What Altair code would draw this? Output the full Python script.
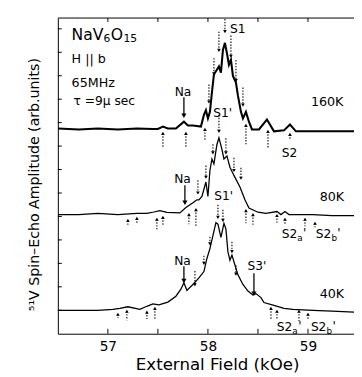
import altair as alt
import pandas as pd

# ---- spectra (field in kOe, amplitude in arb. units incl. vertical offset) ----
f160 = [56.50, 56.71, 56.90, 57.10, 57.29, 57.45, 57.50, 57.55, 57.60, 57.68,
        57.76, 57.80, 57.85, 57.93, 57.96, 57.98, 58.00, 58.02, 58.04, 58.06,
        58.11, 58.13, 58.15, 58.17, 58.19, 58.21, 58.23, 58.25, 58.28, 58.30,
        58.33, 58.35, 58.38, 58.41, 58.44, 58.51, 58.59, 58.66, 58.76, 58.82,
        58.88, 59.05, 59.24, 59.46]
a160 = [8.75, 8.71, 8.75, 8.71, 8.75, 8.73, 8.73, 8.83, 8.75, 8.75,
        9.04, 8.88, 8.88, 8.83, 9.33, 9.53, 9.18, 9.46, 10.29, 11.05,
        11.40, 11.13, 12.10, 12.40, 11.96, 11.47, 11.68, 10.99, 10.71, 10.15,
        9.46, 9.18, 9.46, 9.04, 8.71, 8.71, 9.13, 8.63, 8.67, 8.92,
        8.63, 8.63, 8.63, 8.63]

f80 = [56.50, 56.71, 56.90, 57.10, 57.29, 57.39, 57.46, 57.52, 57.59, 57.72,
       57.78, 57.85, 57.89, 57.91, 57.94, 57.98, 58.00, 58.02, 58.04, 58.06,
       58.09, 58.11, 58.14, 58.16, 58.19, 58.22, 58.26, 58.32, 58.37, 58.41,
       58.50, 58.58, 58.69, 58.73, 58.77, 58.81, 59.05, 59.24, 59.46]
a80 = [5.08, 5.08, 5.13, 5.08, 5.13, 5.13, 5.19, 5.25, 5.17, 5.15,
       5.38, 5.58, 5.71, 5.71, 5.85, 6.47, 5.85, 6.96, 7.45, 7.24,
       8.07, 8.35, 7.86, 7.45, 7.58, 7.10, 6.75, 6.26, 5.71, 5.36,
       5.18, 5.13, 5.21, 5.08, 5.21, 5.08, 5.08, 5.04, 5.04]

f40 = [56.50, 56.71, 56.90, 57.05, 57.12, 57.20, 57.32, 57.39, 57.45, 57.51,
       57.60, 57.68, 57.73, 57.76, 57.79, 57.85, 57.91, 57.96, 57.99, 58.02,
       58.05, 58.08, 58.10, 58.13, 58.16, 58.18, 58.20, 58.22, 58.24, 58.27,
       58.30, 58.35, 58.40, 58.45, 58.48, 58.53, 58.56, 58.66, 58.76, 58.85,
       59.05, 59.24, 59.46]
a40 = [1.00, 1.00, 1.00, 1.04, 1.08, 1.15, 1.04, 1.17, 1.27, 1.23,
       1.35, 1.60, 1.90, 2.17, 1.85, 2.10, 2.38, 2.65, 3.21, 3.63,
       4.18, 4.74, 4.67, 4.11, 4.71, 4.46, 3.49, 3.14, 3.35, 2.93,
       2.51, 2.10, 1.82, 1.65, 1.71, 1.54, 1.33, 1.21, 1.08, 1.04,
       1.00, 0.96, 0.92]

# ---- dotted markers: arrows pointing down onto peaks ----
dn_f = [58.01, 58.06, 58.11, 58.17, 58.23, 58.28, 58.35,
        57.90, 57.98, 58.05, 58.11, 58.18, 58.26, 58.33,
        57.87, 57.96, 58.02, 58.10, 58.15, 58.24, 58.28]
dn_top = [10.63, 11.75, 12.88, 13.42, 12.71, 11.67, 10.50,
          6.54, 7.17, 8.08, 9.33, 8.33, 7.50, 7.08,
          2.67, 3.33, 4.13, 5.50, 5.29, 3.92, 2.92]
dn_tip = [9.88, 11.08, 12.08, 12.88, 11.83, 10.79, 9.75,
          6.00, 6.67, 7.71, 8.63, 7.71, 6.96, 6.63,
          2.08, 3.00, 3.83, 4.96, 4.83, 3.50, 2.54]

# ---- dotted markers: arrows pointing up from below ----
up_f = [57.55, 57.78, 57.97, 58.38, 58.60, 58.82,
        57.20, 57.29, 57.49, 57.55, 57.81, 57.88, 58.38, 58.45, 58.69, 58.77, 58.97, 59.07,
        57.10, 57.19, 57.39, 57.47, 58.63, 58.69, 58.91, 59.00]
up_tip = [8.54, 8.54, 8.71, 8.88, 8.63, 8.50,
          4.83, 4.92, 4.88, 4.96, 5.08, 5.29, 5.25, 5.08, 5.04, 4.88, 4.88, 4.71,
          0.83, 0.96, 0.92, 1.08, 1.08, 0.96, 0.96, 0.83]
up_bot = [7.92, 7.92, 8.21, 8.08, 7.92, 8.25,
          4.63, 4.67, 4.46, 4.58, 4.67, 4.58, 4.71, 4.63, 4.67, 4.63, 4.58, 4.54,
          0.67, 0.58, 0.63, 0.63, 0.63, 0.63, 0.54, 0.58]

# ---- solid arrows (Na, Na, Na, S3') ----
sa_f = [57.76, 57.77, 57.76, 58.46]
sa_top = [10.08, 6.33, 2.88, 2.58]
sa_tip = [9.29, 5.58, 2.25, 1.71]

# ---- text labels ----
lab_text = ["NaV", "6", "O", "15", "H || b", "65MHz", "τ =9μ sec",
            "S1", "Na", "S1'", "160K", "S2",
            "Na", "S1'", "80K", "S2", "a", "'", "S2", "b", "'",
            "Na", "S3'", "40K", "S2", "a", "'", "S2", "b", "'"]
lab_x = [56.637, 56.956, 57.028, 57.155, 56.637, 56.637, 56.657,
         58.22, 57.668, 58.054, 59.029, 58.737,
         57.663, 58.063, 59.117, 58.737, 58.893, 58.951, 59.078, 59.234, 59.293,
         57.663, 58.395, 59.117, 58.688, 58.844, 58.902, 59.029, 59.185, 59.244]
lab_y = [12.73, 12.56, 12.73, 12.56, 11.71, 10.69, 9.94,
         13.0, 10.29, 9.42, 9.88, 7.71,
         6.58, 5.88, 5.83, 4.25, 4.08, 4.30, 4.25, 4.08, 4.30,
         3.08, 2.88, 1.67, 0.29, 0.12, 0.34, 0.29, 0.12, 0.34]
lab_size = [16, 11, 16, 11, 13, 13, 12.5,
            12.5, 12.5, 12.5, 13, 12.5,
            12.5, 12.5, 13, 12.5, 9, 12.5, 12.5, 9, 12.5,
            12.5, 12.5, 13, 12.5, 9, 12.5, 12.5, 9, 12.5]

x_ticks = [57, 57.5, 58, 58.5, 59]
y_ticks = list(range(1, 14))

W, H = 303, 323
FONT = "DejaVu Sans"

xs = alt.Scale(domain=[56.5, 59.46], nice=False, zero=False)
ys = alt.Scale(domain=[0, 13.46], nice=False, zero=False)

XAXIS = alt.Axis(
    values=[57, 58, 59], ticks=False, tickSize=0, grid=False,
    labelFont=FONT, labelFontSize=14, labelColor="black", labelPadding=6,
    domainColor="black", domainWidth=1,
    title="External Field (kOe)", titleFont=FONT, titleFontSize=17,
    titleFontWeight="normal", titleColor="black",
    titleX=163, titleY=37, titleBaseline="alphabetic", titleAlign="center")
YAXIS = alt.Axis(
    labels=False, ticks=False, tickSize=0, grid=False,
    domainColor="black", domainWidth=1,
    title="⁵¹V Spin–Echo Amplitude (arb.units)", titleFont=FONT, titleFontSize=14.5,
    titleFontWeight="normal", titleColor="black", titleAngle=270,
    titleX=-20, titleY=170, titleBaseline="alphabetic", titleAlign="center")


def xq(field="f"):
    return alt.X(f"{field}:Q", scale=xs, axis=XAXIS)


def yq(field):
    return alt.Y(f"{field}:Q", scale=ys, axis=YAXIS)


spec = pd.concat([
    pd.DataFrame({"f": f160, "a": a160, "T": "160K"}),
    pd.DataFrame({"f": f80, "a": a80, "T": "80K"}),
    pd.DataFrame({"f": f40, "a": a40, "T": "40K"}),
])

lines_thin = alt.Chart(spec[spec["T"] != "160K"]).mark_line(
    color="black", strokeWidth=1.3, clip=True).encode(x=xq(), y=yq("a"), detail="T:N")
line160 = alt.Chart(spec[spec["T"] == "160K"]).mark_line(
    color="black", strokeWidth=2.1, clip=True).encode(x=xq(), y=yq("a"))

dn = pd.DataFrame({"f": dn_f, "y1": dn_top, "y2": dn_tip})
up = pd.DataFrame({"f": up_f, "y1": up_tip, "y2": up_bot})
sa = pd.DataFrame({"f": sa_f, "y1": sa_top, "y2": sa_tip})

dotted = alt.Chart(pd.concat([dn, up])).mark_rule(
    color="black", strokeWidth=1.1, strokeDash=[1.5, 1.5]).encode(
    x=xq(), y=yq("y1"), y2="y2:Q")
dn_heads = alt.Chart(dn).mark_point(
    shape="triangle-down", filled=True, size=14, color="black", opacity=1).encode(
    x=xq(), y=yq("y2"))
up_heads = alt.Chart(up).mark_point(
    shape="triangle-up", filled=True, size=14, color="black", opacity=1).encode(
    x=xq(), y=yq("y1"))
solid = alt.Chart(sa).mark_rule(color="black", strokeWidth=1.3).encode(
    x=xq(), y=yq("y1"), y2="y2:Q")
solid_heads = alt.Chart(sa).mark_point(
    shape="triangle-down", filled=True, size=28, color="black", opacity=1).encode(
    x=xq(), y=yq("y2"))

labels = alt.Chart(pd.DataFrame({"t": lab_text, "f": lab_x, "y": lab_y, "s": lab_size})).mark_text(
    align="left", baseline="middle", font=FONT, color="black").encode(
    x=xq(), y=yq("y"), text="t:N", size=alt.Size("s:Q", scale=None))

tick_b = alt.Chart(pd.DataFrame({"f": x_ticks})).mark_rule(color="black", strokeWidth=1).encode(
    x=xq(), y=alt.value(H), y2=alt.value(H - 5))
tick_t = alt.Chart(pd.DataFrame({"f": x_ticks})).mark_rule(color="black", strokeWidth=1).encode(
    x=xq(), y=alt.value(0), y2=alt.value(4))
tick_l = alt.Chart(pd.DataFrame({"v": y_ticks})).mark_rule(color="black", strokeWidth=1).encode(
    y=yq("v"), x=alt.value(0), x2=alt.value(4))
top_line = alt.Chart(pd.DataFrame({"v": [0]})).mark_rule(color="black", strokeWidth=1).encode(
    x=alt.value(0), x2=alt.value(W), y=alt.value(0))

chart = alt.layer(
    lines_thin, line160, dotted, dn_heads, up_heads, solid, solid_heads,
    labels, tick_b, tick_t, tick_l, top_line
).properties(
    width=W, height=H,
    autosize=alt.AutoSizeParams(type="none"),
    padding={"left": 51, "top": 6, "right": 0, "bottom": 40},
    background="white",
).configure_view(stroke=None)

chart.save("out.html", embed_options={"renderer": "svg", "actions": False})
